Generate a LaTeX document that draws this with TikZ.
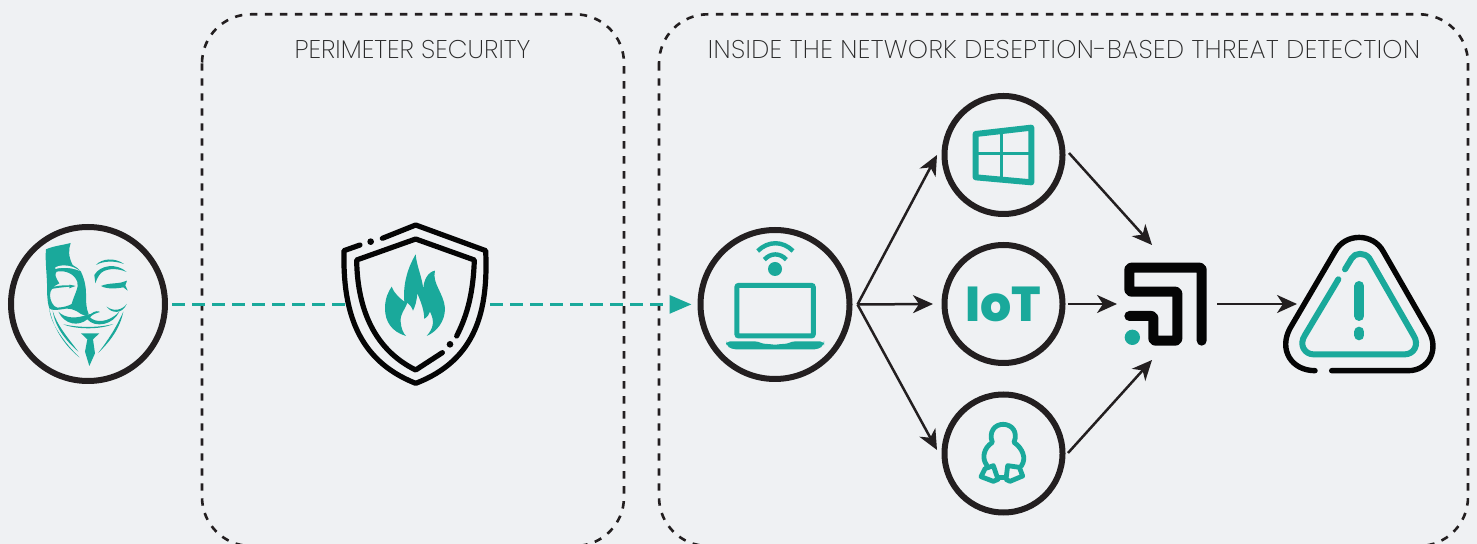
\documentclass[tikz,border=0pt]{standalone}
\usepackage{fontspec}
\setmainfont{Poppins}[UprightFont=* ExtraLight,BoldFont=* ExtraBold]
\usetikzlibrary{arrows.meta}
\definecolor{teal1}{HTML}{1AA99B}
\definecolor{bg1}{HTML}{EFF1F3}
\definecolor{ink1}{HTML}{231F20}
\definecolor{blk1}{HTML}{050505}
\definecolor{txt1}{HTML}{2A2A2A}
\tikzset{
  zone/.style={draw=ink1,line width=1.3pt,dash pattern=on 3.7pt off 3.8pt,rounded corners=24.5pt},
  ring/.style={circle,draw=ink1,line width=3pt,inner sep=0pt,fill=none},
  flow/.style={draw=ink1,line width=1.25pt,-{Stealth[length=10pt,width=9pt,inset=3pt]}},
  attack/.style={draw=teal1,line width=1.5pt,dash pattern=on 6.5pt off 3.5pt},
  title/.style={text=txt1,font=\fontsize{12.8pt}{15pt}\selectfont,inner sep=0pt,anchor=base},
  tstroke/.style={draw=teal1,line cap=round,line join=round},
  bstroke/.style={draw=blk1,line cap=round,line join=round},
  tfill/.style={fill=teal1,draw=none}
}
\begin{document}
\begin{tikzpicture}[x=0.5pt,y=-0.5pt]
\useasboundingbox (0,0) rectangle (1477,544);
\clip (0,0) rectangle (1477,544);
\fill[bg1] (0,0) rectangle (1477,544);
% zones
\draw[zone] (202,14.3) rectangle (624,546);
\draw[zone] (659,14.3) rectangle (1468,546);
\node[title] (t1) at (412.5,59) {PERIMETER SECURITY};
\node[title] (t2) at (1064,59) {\addfontfeature{LetterSpace=1.4}INSIDE THE NETWORK DESEPTION-BASED THREAT DETECTION};
% rings
\node[ring,minimum size=77pt] (mask) at (88,304) {};
\node[ring,minimum size=74.5pt] (laptop) at (775,304.5) {};
\node[ring,minimum size=59pt] (win) at (1003.5,155) {};
\node[ring,minimum size=59pt,text=teal1,font=\bfseries\fontsize{24.5pt}{25pt}\selectfont] (iot) at (1003.5,304) {IoT};
\node[ring,minimum size=59pt] (linux) at (1003.5,453.5) {};
% anchors for connectors
\coordinate (shieldL) at (346,304.4);
\coordinate (shieldR) at (490,304.4);
\coordinate (maskOut) at ([xshift=2pt]mask.east |- shieldL);
\coordinate (lapIn) at ([xshift=-3pt]laptop.west |- shieldR);
\coordinate (fork) at ([xshift=2.5pt]laptop.east);
\coordinate (winIn) at (937,155);
\coordinate (iotIn) at (933,304);
\coordinate (linIn) at (937,450);
\coordinate (winOut) at (1069,153);
\coordinate (iotOut) at (1068,304);
\coordinate (linOut) at (1068,453);
\coordinate (logoT) at (1152,245);
\coordinate (logoM) at (1117,304);
\coordinate (logoB) at (1152,360);
\coordinate (logoOut) at (1217,304);
\coordinate (warnIn) at (1297,304);
% attack path
\draw[attack] (maskOut) -- (shieldL);
\draw[attack,-{Triangle[length=11pt,width=9pt]}] (shieldR) -- (lapIn);
% flows
\draw[flow] (fork) -- (winIn);
\draw[flow] (fork) -- (iotIn);
\draw[flow] (fork) -- (linIn);
\draw[flow] (winOut) -- (logoT);
\draw[flow] (iotOut) -- (logoM);
\draw[flow] (linOut) -- (logoB);
\draw[flow] (logoOut) -- (warnIn);
% mask
\begin{scope}[shift={(0,210)},scale=1/3]
\fill[teal1,even odd rule] (138,118) .. controls (160,108) and (190,105) .. (212,99) .. controls (205,120) and (205,140) .. (218,165) .. controls (228,172) and (238,176) .. (243,185) .. controls (252,205) and (258,225) .. (258,250) .. controls (258,275) and (258,295) .. (266,312) .. controls (258,318) and (250,318) .. (243,312) .. controls (225,298) and (205,292) .. (185,298) .. controls (170,300) and (155,302) .. (148,295) .. controls (140,270) and (142,250) .. (141,220) .. controls (140,185) and (135,150) .. (138,118) -- cycle
 (170,185) .. controls (195,180) and (222,190) .. (232,215) .. controls (238,232) and (222,255) .. (215,282) .. controls (205,288) and (190,292) .. (172,293) .. controls (158,290) and (150,270) .. (150,255) .. controls (150,240) and (160,228) .. (178,220) .. controls (168,205) and (162,192) .. (170,185) -- cycle;
\fill[bg1] (166,172) .. controls (190,160) and (220,168) .. (240,183) .. controls (220,174) and (190,170) .. (166,177) -- cycle;
\fill[teal1] (150,234) .. controls (170,226) and (200,224) .. (226,228) .. controls (205,231) and (175,232) .. (150,238) -- cycle;
\fill[teal1] (208,224) -- (226,228) -- (208,235) -- cycle;
% moustache
\fill[teal1] (175,305) .. controls (195,325) and (225,325) .. (250,318) .. controls (258,315) and (266,312) .. (272,312) .. controls (285,302) and (295,302) .. (300,306) .. controls (285,310) and (275,315) .. (270,322) .. controls (285,338) and (325,340) .. (358,305) .. controls (340,345) and (285,355) .. (262,328) .. controls (235,350) and (195,345) .. (175,305) -- cycle;
\fill[teal1] (148,295) .. controls (150,340) and (195,400) .. (238,442) .. controls (200,412) and (160,360) .. (148,295) -- cycle;
\fill[teal1] (158,302) .. controls (170,345) and (205,385) .. (235,425) .. controls (195,390) and (165,350) .. (158,302) -- cycle;
\fill[teal1] (370,305) .. controls (360,355) and (330,395) .. (295,428) .. controls (325,390) and (350,350) .. (370,305) -- cycle;
\fill[teal1] (190,343) .. controls (230,352) and (290,355) .. (340,342) .. controls (300,360) and (225,358) .. (190,343) -- cycle;
\fill[teal1] (243,370) -- (298,370) -- (279,388) -- (285,430) -- (268,468) -- (255,425) -- (262,388) -- cycle;
% right brow, eye, smile
\fill[teal1] (288,165) .. controls (305,145) and (345,142) .. (372,162) .. controls (345,152) and (310,152) .. (288,165) -- cycle;
\fill[teal1] (283,195) .. controls (300,165) and (350,158) .. (380,186) .. controls (350,172) and (310,175) .. (298,195) .. controls (292,205) and (288,212) .. (286,220) -- cycle;
\fill[teal1] (303,228) .. controls (325,218) and (355,222) .. (372,215) -- (381,212) -- (376,226) -- (383,242) -- (370,232) .. controls (350,236) and (320,238) .. (303,228) -- cycle;
\fill[teal1] (320,290) .. controls (340,305) and (365,302) .. (380,282) .. controls (368,312) and (335,312) .. (320,290) -- cycle;
\end{scope}
% shield
\begin{scope}[shift={(320,210)},scale=1/3]
\draw[bstroke,line width=2.6pt] (187,85) -- (287,45) -- (497,122) .. controls (505,300) and (470,450) .. (287,520) .. controls (110,450) and (68,300) .. (72,122) -- (120,105);
\fill[blk1] (152,95) circle[radius=10];
\draw[bstroke,line width=2.6pt] (410,378) .. controls (445,310) and (460,240) .. (463,150) -- (287,87) -- (110,150) .. controls (112,300) and (165,420) .. (287,480) -- (367,428);
\fill[blk1] (390,403) circle[radius=10];
\fill[teal1] (258,378) .. controls (215,365) and (195,335) .. (195,295) .. controls (195,265) and (205,245) .. (215,230) .. controls (222,250) and (240,265) .. (253,275) .. controls (248,220) and (265,170) .. (287,133) .. controls (290,170) and (305,195) .. (310,238) .. controls (310,210) and (325,185) .. (345,182) .. controls (335,220) and (372,250) .. (375,295) .. controls (375,335) and (350,365) .. (320,378) .. controls (340,355) and (345,335) .. (330,305) .. controls (328,315) and (320,322) .. (313,327) .. controls (312,295) and (300,270) .. (292,250) .. controls (290,275) and (285,290) .. (279,302) .. controls (275,290) and (268,283) .. (262,278) .. controls (255,300) and (240,310) .. (242,335) .. controls (243,355) and (250,370) .. (258,378) -- cycle;
\end{scope}
% laptop
\begin{scope}[shift={(680,210)},scale=1/3]
\draw[teal1,line width=2.5pt,rounded corners=1pt] (170.5,226) rectangle (400,378);
\fill[teal1,rounded corners=2pt] (138,394) -- (235,394) .. controls (250,402) and (270,402) .. (285,406) .. controls (300,402) and (320,402) .. (335,394) -- (432,394) -- (432,405) -- (415,418) -- (155,418) -- (138,405) -- cycle;
\fill[teal1] (285,177) circle[radius=21];
\draw[teal1,line width=2.2pt] (253,149) .. controls (272,128) and (300,128) .. (319,149);
\draw[teal1,line width=2.2pt] (233,123) .. controls (265,92) and (308,92) .. (339,123);
\end{scope}
% windows
\begin{scope}[shift={(930,85)},scale=1/3]
\draw[teal1,line width=3pt,line join=round] (137,147) -- (304,128) -- (304,292) -- (137,277) -- cycle;
\draw[teal1,line width=1.3pt] (214,138) -- (214,285);
\draw[teal1,line width=1.3pt] (137,206) -- (304,206);
\end{scope}
% linux
\begin{scope}[shift={(930,380)},scale=1/3]
\draw[tstroke,line width=2.4pt] (170,255) .. controls (155,235) and (160,205) .. (187,187) .. controls (175,155) and (195,133) .. (219,133) .. controls (245,133) and (265,155) .. (252,187) .. controls (278,205) and (290,235) .. (274,258);
\draw[tstroke,line width=2.4pt] (165,266) -- (190,257) -- (204,298) -- (190,304) -- (153,290) -- cycle;
\draw[tstroke,line width=2.4pt] (233,257) -- (268,262) -- (278,288) -- (240,304) -- (228,298) -- cycle;
\draw[tstroke,line width=2.4pt] (204,293) -- (228,293);
\end{scope}
% logo and warning
\begin{scope}[shift={(1100,220)},scale=1/3]
\draw[bstroke,line width=5pt,rounded corners=1pt] (305,362) -- (305,143) -- (88,143) -- (88,215) -- (232,215) -- (232,362) -- (160,362) -- (160,288) -- (88,288);
\fill[teal1] (97,352) circle[radius=23];
\draw[bstroke,line width=2.7pt] (695,452) -- (925,452) .. controls (985,452) and (1020,390) .. (985,330) -- (850,95) .. controls (820,38) and (735,38) .. (705,95) -- (570,325) .. controls (535,390) and (575,452) .. (645,452);
\draw[tstroke,line width=3pt] (735,148) -- (755,115) .. controls (765,97) and (795,97) .. (808,115) -- (940,345) .. controls (960,375) and (940,403) .. (915,403) -- (640,403) .. controls (615,403) and (595,375) .. (615,345) -- (715,178);
\draw[tstroke,line width=5pt] (778,198) -- (778,288);
\draw[tstroke,line width=5pt] (778,335) -- (778,346);
\end{scope}
\end{tikzpicture}
\end{document}
